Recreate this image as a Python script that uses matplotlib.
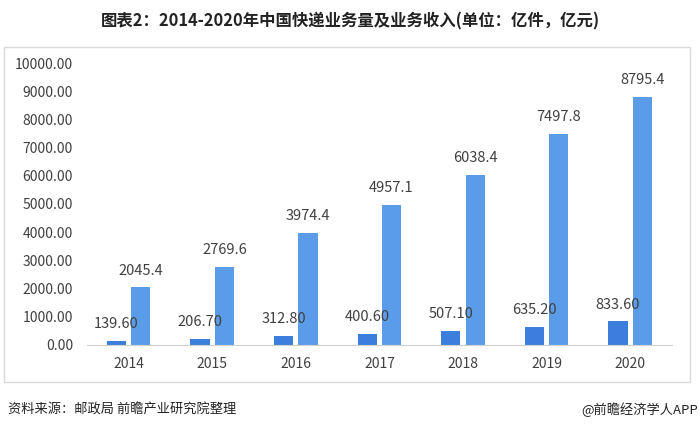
import matplotlib
matplotlib.use("Agg")
import matplotlib.pyplot as plt
import numpy as np
from matplotlib.patches import Rectangle

plt.rcParams["font.family"] = ["Noto Sans CJK SC", "DejaVu Sans"]

years = ["2014", "2015", "2016", "2017", "2018", "2019", "2020"]
volume = [139.60, 206.70, 312.80, 400.60, 507.10, 635.20, 833.60]      # 亿件
revenue = [2045.4, 2769.6, 3974.4, 4957.1, 6038.4, 7497.8, 8795.4]   # 亿元

fig = plt.figure(figsize=(7.0, 4.29), dpi=100)

# outer frame around the chart area
fig.patches.append(Rectangle((0.006, 0.11), 0.98, 0.78, transform=fig.transFigure,
                             fill=False, edgecolor="#d9d9d9", linewidth=1.0))

ax = fig.add_axes([0.124, 0.196, 0.836, 0.657])
x = np.arange(len(years))
w = 0.23
b1 = ax.bar(x - 0.145, volume, w, color="#3c7edb")
b2 = ax.bar(x + 0.145, revenue, w, color="#5b9ce8")

for rect, v in zip(b1, volume):
    ax.annotate(f"{v:.2f}", (rect.get_x() + rect.get_width() / 2, v),
                xytext=(0, 7), textcoords="offset points", ha="center", va="bottom",
                fontsize=10.5, color="#404040")
for rect, v in zip(b2, revenue):
    ax.annotate(f"{v:.1f}", (rect.get_x() + rect.get_width() / 2, v),
                xytext=(0, 7), textcoords="offset points", ha="center", va="bottom",
                fontsize=10.5, color="#404040")

ax.set_xlim(-0.5, len(years) - 0.5)
ax.set_ylim(0, 10000)
ax.set_yticks(np.arange(0, 10001, 1000))
ax.set_yticklabels([f"{t:.2f}" for t in np.arange(0, 10001, 1000)])
ax.set_xticks(x)
ax.set_xticklabels(years)
ax.tick_params(axis="both", length=0, labelsize=10, labelcolor="#404040")
ax.tick_params(axis="y", pad=10)
ax.tick_params(axis="x", pad=9)
for s in ["top", "right", "left"]:
    ax.spines[s].set_visible(False)
ax.spines["bottom"].set_color("#d0d0d0")

fig.text(0.5, 0.949, "图表2：2014-2020年中国快递业务量及业务收入(单位：亿件，亿元)",
         ha="center", va="center", fontsize=11.8, fontweight="bold", color="#222222")
fig.text(0.011, 0.044, "资料来源：邮政局 前瞻产业研究院整理", ha="left", va="center",
         fontsize=9.5, color="#222222")
fig.text(0.997, 0.044, "@前瞻经济学人APP", ha="right", va="center",
         fontsize=9.5, color="#222222")

fig.savefig("out.png", dpi=100)
